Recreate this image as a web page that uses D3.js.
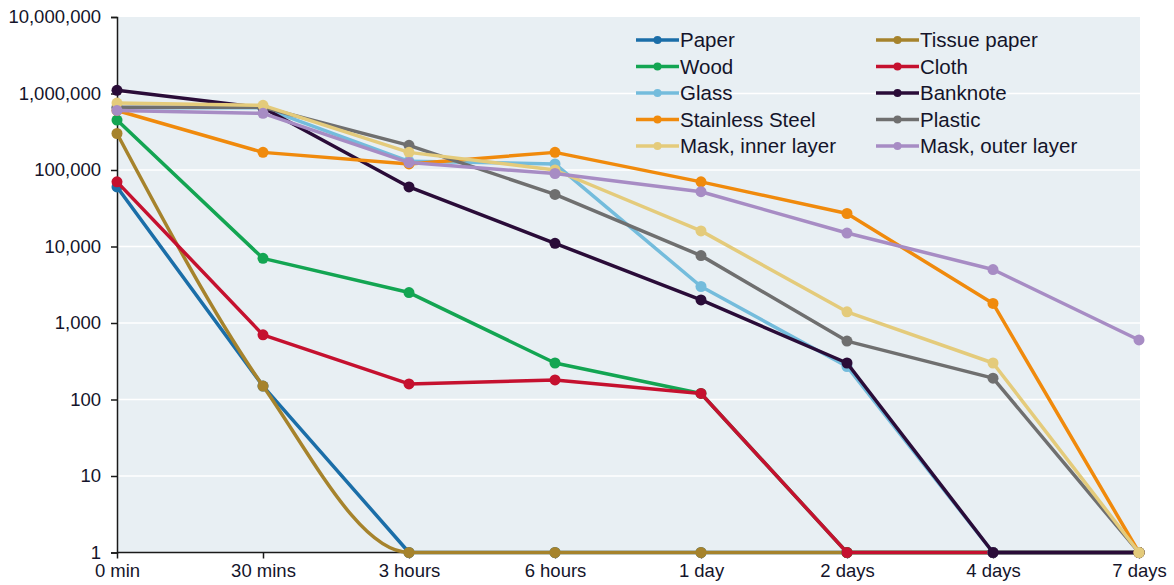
<!DOCTYPE html>
<html>
<head>
<meta charset="utf-8">
<script src="https://cdn.jsdelivr.net/npm/d3@7"></script>
<style>
  html, body { margin: 0; padding: 0; background: #ffffff; }
  svg { display: block; font-family: "Liberation Sans", Arial, sans-serif; }
</style>
</head>
<body>
<svg id="chart" width="1174" height="585"></svg>
<script>
// Time points after deposition
const times = ["0 min", "30 mins", "3 hours", "6 hours", "1 day", "2 days", "4 days", "7 days"];
const yTicks = [1, 10, 100, 1000, 10000, 100000, 1000000, 10000000];

// Virus titre recovered from each surface
const paper        = [60000, 150, 1, 1, 1, 1, 1, 1];
const tissuePaper  = [300000, 150, 1, 1, 1, 1, 1, 1];
const wood         = [450000, 7000, 2500, 300, 120, 1, 1, 1];
const cloth        = [70000, 700, 160, 180, 120, 1, 1, 1];
const glass        = [650000, 650000, 130000, 120000, 3000, 270, 1, 1];
const banknote     = [1100000, 650000, 60000, 11000, 2000, 300, 1, 1];
const stainless    = [600000, 170000, 120000, 170000, 70000, 27000, 1800, 1];
const plastic      = [660000, 660000, 210000, 48000, 7600, 580, 190, 1];
const maskInner    = [750000, 700000, 170000, 100000, 16000, 1400, 300, 1];
const maskOuter    = [600000, 550000, 125000, 90000, 52000, 15000, 5000, 600];

const series = [
  { name: "Paper",             values: paper,       color: "#1b6ea8", smooth: false },
  { name: "Tissue paper",      values: tissuePaper, color: "#a6832c", smooth: true  },
  { name: "Wood",              values: wood,        color: "#13a552", smooth: false },
  { name: "Cloth",             values: cloth,       color: "#c5112f", smooth: false },
  { name: "Glass",             values: glass,       color: "#74bcdc", smooth: false },
  { name: "Banknote",          values: banknote,    color: "#2a0c38", smooth: false },
  { name: "Stainless Steel",   values: stainless,   color: "#f08a0c", smooth: false },
  { name: "Plastic",           values: plastic,     color: "#6f6f6f", smooth: false },
  { name: "Mask, inner layer", values: maskInner,   color: "#e4cb7b", smooth: false },
  { name: "Mask, outer layer", values: maskOuter,   color: "#a78cc4", smooth: false }
];

const svg = d3.select("#chart");
const plotLeft = 117, plotRight = 1140, plotTop = 17, plotBottom = 552.5;

const x = d3.scalePoint().domain(times).range([plotLeft, plotRight - 1]);
const y = d3.scaleLog().domain([1, 10000000]).range([plotBottom, plotTop]);

// plot background
svg.append("rect")
  .attr("x", plotLeft).attr("y", plotTop)
  .attr("width", plotRight - plotLeft).attr("height", plotBottom - plotTop)
  .attr("fill", "#e8eff3");

// horizontal gridlines
svg.append("g")
  .selectAll("line")
  .data(yTicks.slice(1, -1))
  .join("line")
  .attr("x1", plotLeft).attr("x2", plotRight)
  .attr("y1", d => y(d)).attr("y2", d => y(d))
  .attr("stroke", "#ffffff").attr("stroke-width", 1.5);

const fmt = d3.format(",");

// y axis
const yAxis = svg.append("g")
  .attr("transform", `translate(${plotLeft},0)`)
  .call(d3.axisLeft(y).tickValues(yTicks).tickFormat(fmt).tickSize(6).tickPadding(10));
yAxis.select(".domain").attr("stroke", "#1a1a1a").attr("stroke-width", 1.5);
yAxis.selectAll(".tick line").attr("stroke", "#1a1a1a").attr("stroke-width", 1.5);
yAxis.selectAll(".tick text")
  .attr("font-size", 18.5).attr("fill", "#14142a")
  .attr("font-family", "'Liberation Sans', Arial, sans-serif");

// x axis
const xAxis = svg.append("g")
  .attr("transform", `translate(0,${plotBottom})`)
  .call(d3.axisBottom(x).tickSize(6).tickPadding(5));
xAxis.select(".domain").attr("stroke", "#1a1a1a").attr("stroke-width", 1.5)
  .attr("d", `M${plotLeft},0H${plotRight}`);
xAxis.selectAll(".tick line").attr("stroke", "#1a1a1a").attr("stroke-width", 1.5);
xAxis.selectAll(".tick text")
  .attr("font-size", 18.5).attr("fill", "#14142a")
  .attr("font-family", "'Liberation Sans', Arial, sans-serif");

// data lines and markers
const straight = d3.line().x((d, i) => x(times[i])).y(d => y(d));
const smooth = d3.line().x((d, i) => x(times[i])).y(d => y(d)).curve(d3.curveMonotoneX);

const lines = svg.append("g");
series.forEach(s => {
  const g = lines.append("g");
  g.append("path")
    .attr("d", (s.smooth ? smooth : straight)(s.values))
    .attr("fill", "none")
    .attr("stroke", s.color)
    .attr("stroke-width", 3.5)
    .attr("stroke-linejoin", "round");
  g.selectAll("circle")
    .data(s.values)
    .join("circle")
    .attr("cx", (d, i) => x(times[i]))
    .attr("cy", d => y(d))
    .attr("r", 5.5)
    .attr("fill", s.color);
});

// legend, two columns read row by row
const legend = svg.append("g");
series.forEach((s, i) => {
  const col = i % 2, row = Math.floor(i / 2);
  const lx = col === 0 ? 636 : 876;
  const ly = 40 + row * 26.5;
  const item = legend.append("g").attr("transform", `translate(${lx},${ly})`);
  item.append("line")
    .attr("x1", 0).attr("x2", 43).attr("y1", 0).attr("y2", 0)
    .attr("stroke", s.color).attr("stroke-width", 3.5);
  item.append("circle").attr("cx", 21.5).attr("cy", 0).attr("r", 4).attr("fill", s.color);
  item.append("text")
    .attr("x", 44).attr("y", 0).attr("dy", "0.35em")
    .attr("font-size", 20.5).attr("fill", "#14142a")
    .text(s.name);
});
</script>
</body>
</html>
